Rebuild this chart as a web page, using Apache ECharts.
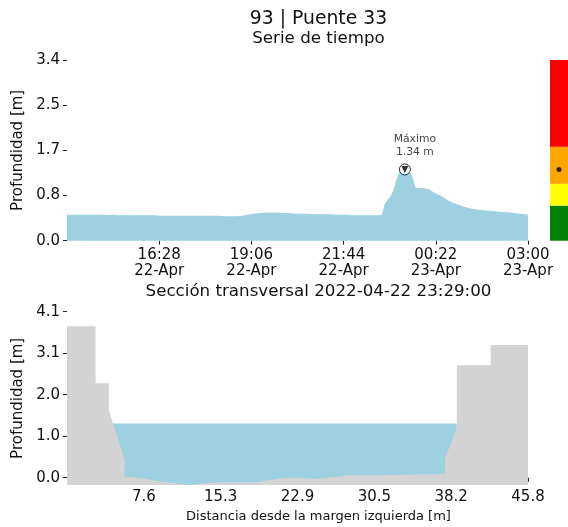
<!DOCTYPE html>
<html><head><meta charset="utf-8">
<script src="https://cdn.jsdelivr.net/npm/echarts@6/dist/echarts.min.js"></script>
<style>html,body{margin:0;padding:0;background:#fff}#c{width:568px;height:527px}</style>
</head><body><div id="c"></div>
<script>
// ---------- data ----------
const stationTitle = '93 | Puente 33';
const seriesTitle = 'Serie de tiempo';
const sectionTitlePrefix = 'Sección transversal';
const sectionXName = 'Distancia desde la margen izquierda [m]';
const depthName = 'Profundidad [m]';

const startTime = '2022-04-22 13:50';
const endTime = '2022-04-23 03:00';
const times = [
 '2022-04-22 13:50','2022-04-22 14:00','2022-04-22 14:10','2022-04-22 14:20','2022-04-22 14:30','2022-04-22 14:40',
 '2022-04-22 14:50','2022-04-22 15:00','2022-04-22 15:10','2022-04-22 15:20','2022-04-22 15:30','2022-04-22 15:40',
 '2022-04-22 15:50','2022-04-22 16:00','2022-04-22 16:10','2022-04-22 16:20','2022-04-22 16:30','2022-04-22 16:40',
 '2022-04-22 16:50','2022-04-22 17:00','2022-04-22 17:10','2022-04-22 17:20','2022-04-22 17:30','2022-04-22 17:40',
 '2022-04-22 17:50','2022-04-22 18:00','2022-04-22 18:10','2022-04-22 18:20','2022-04-22 18:30','2022-04-22 18:40',
 '2022-04-22 18:50','2022-04-22 19:00','2022-04-22 19:10','2022-04-22 19:20','2022-04-22 19:30','2022-04-22 19:40',
 '2022-04-22 19:50','2022-04-22 20:00','2022-04-22 20:10','2022-04-22 20:20','2022-04-22 20:30','2022-04-22 20:40',
 '2022-04-22 20:50','2022-04-22 21:00','2022-04-22 21:10','2022-04-22 21:20','2022-04-22 21:30','2022-04-22 21:40',
 '2022-04-22 21:50','2022-04-22 22:00','2022-04-22 22:10','2022-04-22 22:20','2022-04-22 22:30','2022-04-22 22:40',
 '2022-04-22 22:50','2022-04-22 22:55','2022-04-22 23:00','2022-04-22 23:05','2022-04-22 23:10','2022-04-22 23:15',
 '2022-04-22 23:20','2022-04-22 23:25','2022-04-22 23:29','2022-04-22 23:34','2022-04-22 23:38','2022-04-22 23:43',
 '2022-04-22 23:46','2022-04-22 23:50','2022-04-23 00:00','2022-04-23 00:10','2022-04-23 00:20','2022-04-23 00:30',
 '2022-04-23 00:40','2022-04-23 00:50','2022-04-23 01:00','2022-04-23 01:10','2022-04-23 01:20','2022-04-23 01:30',
 '2022-04-23 01:45','2022-04-23 02:00','2022-04-23 02:15','2022-04-23 02:30','2022-04-23 02:45','2022-04-23 03:00'
];
const depths = [
 0.48,0.48,0.48,0.48,0.48,0.48,
 0.48,0.47,0.48,0.47,0.47,0.47,
 0.47,0.47,0.47,0.47,0.46,0.46,
 0.46,0.46,0.46,0.46,0.46,0.46,
 0.46,0.46,0.46,0.45,0.45,0.45,
 0.46,0.48,0.50,0.51,0.52,0.52,
 0.52,0.51,0.51,0.50,0.50,0.50,
 0.49,0.49,0.49,0.49,0.48,0.48,
 0.48,0.47,0.47,0.47,0.47,0.47,
 0.47,0.68,0.77,0.83,0.94,1.14,
 1.28,1.33,1.34,1.32,1.27,1.14,
 1.00,0.98,0.98,0.96,0.89,0.84,
 0.77,0.71,0.67,0.63,0.60,0.58,
 0.56,0.55,0.53,0.52,0.50,0.48
];
const timeTicks = ['2022-04-22 16:28','2022-04-22 19:06','2022-04-22 21:44','2022-04-23 00:22','2022-04-23 03:00'];
const timeTickLabels = ['16:28\n22-Apr','19:06\n22-Apr','21:44\n22-Apr','00:22\n23-Apr','03:00\n23-Apr'];
const depthTicks = [0, 0.85, 1.7, 2.55, 3.4];
const depthTickLabels = ['0.0','0.8','1.7','2.5','3.4'];

const alertTops = [0.66, 1.07, 1.77, 3.4];
const alertColors = ['#008000','#ffff00','#ffa500','#ff0000'];

const sectionDist = [0, 2.84, 2.84, 4.16, 4.16, 4.56, 5.72, 5.72, 7.6, 9.5, 12.2, 13.2, 15.2, 18.6, 21.8, 22.8, 24.8, 28.1, 31.0, 34.4, 37.56, 37.56, 38.66, 38.72, 38.72, 42.1, 42.1, 45.8];
const sectionElev = [3.74, 3.74, 2.33, 2.33, 1.67, 1.34, 0.44, 0.03, -0.02, -0.10, -0.18, -0.15, -0.11, -0.11, 0.0, 0.0, -0.03, 0.06, 0.06, 0.08, 0.10, 0.48, 1.18, 1.34, 2.78, 2.78, 3.28, 3.28];
const waterEdges = [4.56, 38.72];
const sectionYTicks = [0, 1.025, 2.05, 3.075, 4.1];
const sectionYTickLabels = ['0.0','1.0','2.0','3.1','4.1'];
const sectionXTicks = [7.633, 15.267, 22.9, 30.533, 38.167, 45.8];
const sectionXTickLabels = ['7.6','15.3','22.9','30.5','38.2','45.8'];

// ---------- helpers ----------
function parseT(s){ const [d,t]=s.split(' '); const [Y,M,D]=d.split('-').map(Number); const [h,m]=t.split(':').map(Number); return Date.UTC(Y,M-1,D,h,m); }
const t0 = parseT(startTime);
const toMin = s => (parseT(s)-t0)/60000;
const xMax = toMin(endTime);
const seriesData = times.map((t,i)=>[toMin(t), depths[i]]);
let peakIdx = 0; depths.forEach((v,i)=>{ if(v>depths[peakIdx]) peakIdx=i; });
const peakVal = depths[peakIdx];
const peakMin = toMin(times[peakIdx]);
const timeTickVals = timeTicks.map(toMin);
const lookup = (vals, labels) => v => { let b=0; vals.forEach((x,i)=>{ if(Math.abs(x-v)<Math.abs(vals[b]-v)) b=i; }); return labels[b]; };

const BLUE = '#9dd0e0', GRAY = '#d3d3d3', FONT = 'DejaVu Sans', TXT = '#111';
const tickStyle = { show:true, length:4, lineStyle:{ color:'#222', width:1 } };

const sectionData = sectionDist.map((x,i)=>[x, sectionElev[i]]);
const waterData = waterEdges.map(x=>[x, peakVal]);
const alertSteps = alertTops.map((v,i)=> i===0 ? v : +(v-alertTops[i-1]).toFixed(3));

const chart = echarts.init(document.getElementById('c'), null, {renderer:'canvas'});
chart.setOption({
  animation:false,
  backgroundColor:'#fff',
  textStyle:{ fontFamily: FONT },
  grid:[
    { left:67, top:60, width:461, height:180.7 },
    { left:67, top:311.7, width:461, height:173.3 },
    { left:550, top:60, width:20, height:180.7 }
  ],
  xAxis:[
    { gridIndex:0, type:'value', min:0, max:xMax,
      axisLine:{show:false}, splitLine:{show:false},
      axisTick:Object.assign({customValues: timeTickVals}, tickStyle),
      axisLabel:{ customValues: timeTickVals, formatter: lookup(timeTickVals, timeTickLabels),
        fontSize:15, lineHeight:16, color:TXT, margin:6, fontFamily:FONT } },
    { gridIndex:1, type:'value', min:0, max:45.8,
      axisLine:{show:false}, splitLine:{show:false},
      axisTick:Object.assign({customValues: sectionXTicks}, tickStyle),
      axisLabel:{ customValues: sectionXTicks, formatter: lookup(sectionXTicks, sectionXTickLabels),
        fontSize:15, color:TXT, margin:5, fontFamily:FONT } },
    { gridIndex:2, type:'category', data:['nivel'], show:false }
  ],
  yAxis:[
    { gridIndex:0, type:'value', min:0, max:3.4,
      axisLine:{show:false}, splitLine:{show:false},
      axisTick:Object.assign({customValues: depthTicks}, tickStyle),
      axisLabel:{ customValues: depthTicks, formatter: lookup(depthTicks, depthTickLabels),
        fontSize:15, color:TXT, margin:7, fontFamily:FONT },
      name: depthName, nameLocation:'middle', nameGap:35,
      nameTextStyle:{ fontSize:15, color:TXT, fontFamily:FONT } },
    { gridIndex:1, type:'value', min:-0.18, max:4.1,
      axisLine:{show:false}, splitLine:{show:false},
      axisTick:Object.assign({customValues: sectionYTicks}, tickStyle),
      axisLabel:{ customValues: sectionYTicks, formatter: lookup(sectionYTicks, sectionYTickLabels),
        fontSize:15, color:TXT, margin:7, fontFamily:FONT },
      name: depthName, nameLocation:'middle', nameGap:35,
      nameTextStyle:{ fontSize:15, color:TXT, fontFamily:FONT } },
    { gridIndex:2, type:'value', min:0, max:3.4, show:false }
  ],
  series:[
    { type:'line', xAxisIndex:0, yAxisIndex:0, data:seriesData, showSymbol:false, symbol:'none',
      lineStyle:{ color:BLUE, width:1 }, areaStyle:{ color:BLUE, opacity:1, origin:'start' }, z:2 },
    { type:'scatter', xAxisIndex:0, yAxisIndex:0, data:[[peakMin, peakVal]], symbol:'circle', symbolSize:11,
      itemStyle:{ color:'#fff', borderColor:'#000', borderWidth:1 }, z:5,
      label:{ show:true, position:'top', distance:5, offset:[10,0], formatter:'Máximo\n'+peakVal.toFixed(2)+' m',
        fontSize:10.8, lineHeight:12.6, color:TXT, fontFamily:FONT } },
    { type:'scatter', xAxisIndex:0, yAxisIndex:0, data:[[peakMin, peakVal]], symbol:'triangle', symbolRotate:180,
      symbolSize:7, itemStyle:{ color:'#000' }, z:6 },
    { type:'line', xAxisIndex:1, yAxisIndex:1, data:waterData, showSymbol:false, symbol:'none',
      lineStyle:{ width:0 }, areaStyle:{ color:BLUE, opacity:1, origin:'start' }, z:2 },
    { type:'line', xAxisIndex:1, yAxisIndex:1, data:sectionData, showSymbol:false, symbol:'none',
      lineStyle:{ width:0 }, areaStyle:{ color:GRAY, opacity:1, origin:'start' }, z:3 },
    ...alertSteps.map((v,i)=>({ type:'bar', xAxisIndex:2, yAxisIndex:2, stack:'alert', data:[v],
      barWidth:'100%', itemStyle:{ color:alertColors[i] }, z:2 })),
    { type:'scatter', xAxisIndex:2, yAxisIndex:2, data:[[0, peakVal]], symbolSize:5,
      itemStyle:{ color:'#000' }, z:5 }
  ],
  graphic:[
    { type:'text', x:318.5, y:19, style:{ text:stationTitle, fontSize:18.8, fontFamily:FONT, fill:TXT, align:'center', verticalAlign:'middle' } },
    { type:'text', x:318.5, y:39, style:{ text:seriesTitle, fontSize:16.7, fontFamily:FONT, fill:TXT, align:'center', verticalAlign:'middle' } },
    { type:'text', x:318.5, y:292, style:{ text:sectionTitlePrefix+' '+times[peakIdx]+':00', fontSize:16.7, fontFamily:FONT, fill:TXT, align:'center', verticalAlign:'middle' } },
    { type:'text', x:318.5, y:517, style:{ text:sectionXName, fontSize:13, fontFamily:FONT, fill:TXT, align:'center', verticalAlign:'middle' } }
  ]
});
</script></body></html>
